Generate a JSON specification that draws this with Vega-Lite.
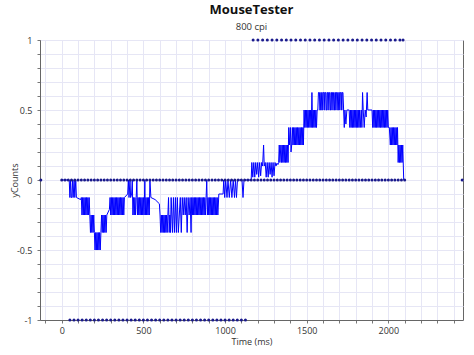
{
"$schema": "https://vega.github.io/schema/vega-lite/v6.json",
"width": 423, "height": 280,
"autosize": {"type": "none"},
"padding": {"left": 40, "top": 40, "right": 11, "bottom": 35},
"background": "white",
"title": {"text": "MouseTester", "subtitle": "800 cpi", "fontSize": 13, "fontWeight": "bold", "color": "#111", "subtitleFontSize": 9.5, "subtitleColor": "#333", "offset": 5, "subtitlePadding": 5, "anchor": "middle"},
"config": {"view": {"stroke": "#666", "strokeWidth": 1}, "font": "Open Sans"},
"layer": [
{"data": {"name": "line"},
 "mark": {"type": "line", "color": "#0000ff", "strokeWidth": 1},
 "encoding": {
  "x": {"field": "t", "type": "quantitative", "scale": {"domain": [-133, 2457], "nice": false, "zero": false},
   "axis": {"title": "Time (ms)", "tickCount": 500, "values": [-100,0,100,200,300,400,500,600,700,800,900,1000,1100,1200,1300,1400,1500,1600,1700,1800,1900,2000,2100,2200,2300,2400],
    "labelExpr": "datum.value % 500 === 0 ? datum.value + '' : ''", "labelOverlap": false, "labelBound": false, "labelFlush": false,
    "grid": true, "gridColor": "#e6e6f5", "tickSize": 3, "tickColor": "#777", "domainColor": "#666", "labelFontSize": 9, "labelColor": "#333", "titleFontSize": 9, "titleFontWeight": "normal", "titleColor": "#333", "labelPadding": 3, "titlePadding": 2}},
  "y": {"field": "y", "type": "quantitative", "scale": {"domain": [-1, 1], "nice": false},
   "axis": {"title": "yCounts", "tickCount": 500, "values": [-1,-0.9,-0.8,-0.7,-0.6,-0.5,-0.4,-0.3,-0.2,-0.1,0,0.1,0.2,0.3,0.4,0.5,0.6,0.7,0.8,0.9,1],
    "labelExpr": "indexof([-1,-0.5,0,0.5,1], datum.value) >= 0 ? toString(datum.value) : ''", "labelOverlap": false, "labelBound": false, "labelFlush": false,
    "grid": true, "gridColor": "#e6e6f5", "tickSize": 3, "tickColor": "#777", "domainColor": "#666", "labelFontSize": 9, "labelColor": "#333", "titleFontSize": 9, "titleFontWeight": "normal", "titleColor": "#333", "labelPadding": 5, "titleX": -26, "titleBaseline": "middle"}}
 }},
{"data": {"name": "dots"},
 "mark": {"type": "circle", "size": 9, "color": "#1a1a8c", "opacity": 1},
 "encoding": {
  "x": {"field": "t", "type": "quantitative"},
  "y": {"field": "y", "type": "quantitative"}
 }}
],
"datasets": {
"line": [
{"t":0,"y":0},{"t":46,"y":0},
{"t":50,"y":-0.125},{"t":54,"y":0},{"t":58,"y":-0.125},{"t":62,"y":-0.125},{"t":66,"y":0},{"t":70,"y":-0.125},{"t":76,"y":0},{"t":80,"y":-0.125},{"t":86,"y":0},{"t":90,"y":-0.125},
{"t":116,"y":-0.14},
{"t":120,"y":-0.125},{"t":124,"y":-0.25},{"t":128,"y":-0.125},{"t":132,"y":-0.25},{"t":136,"y":-0.125},{"t":140,"y":-0.25},{"t":144,"y":-0.125},{"t":148,"y":-0.25},{"t":152,"y":-0.125},{"t":156,"y":-0.25},{"t":160,"y":-0.125},{"t":164,"y":-0.25},{"t":168,"y":-0.125},
{"t":172,"y":-0.25},{"t":176,"y":-0.375},{"t":180,"y":-0.25},{"t":184,"y":-0.375},{"t":188,"y":-0.25},{"t":192,"y":-0.375},{"t":196,"y":-0.25},{"t":200,"y":-0.375},
{"t":204,"y":-0.5},{"t":208,"y":-0.375},{"t":212,"y":-0.5},{"t":216,"y":-0.375},{"t":220,"y":-0.5},{"t":224,"y":-0.375},{"t":228,"y":-0.5},{"t":232,"y":-0.375},{"t":236,"y":-0.5},{"t":240,"y":-0.375},
{"t":244,"y":-0.25},{"t":248,"y":-0.375},{"t":252,"y":-0.25},{"t":256,"y":-0.375},{"t":260,"y":-0.25},{"t":264,"y":-0.375},{"t":268,"y":-0.25},{"t":272,"y":-0.375},
{"t":276,"y":-0.25},{"t":292,"y":-0.21},
{"t":296,"y":-0.125},{"t":300,"y":-0.25},{"t":304,"y":-0.125},{"t":308,"y":-0.25},{"t":312,"y":-0.125},{"t":316,"y":-0.25},{"t":320,"y":-0.125},{"t":324,"y":-0.25},{"t":328,"y":-0.125},{"t":332,"y":-0.25},{"t":336,"y":-0.125},{"t":340,"y":-0.25},{"t":344,"y":-0.125},{"t":348,"y":-0.25},{"t":352,"y":-0.125},{"t":356,"y":-0.25},{"t":360,"y":-0.125},{"t":364,"y":-0.25},{"t":368,"y":-0.125},{"t":372,"y":-0.25},{"t":376,"y":-0.125},{"t":380,"y":-0.25},{"t":384,"y":-0.125},
{"t":404,"y":-0.1},
{"t":408,"y":0},{"t":412,"y":-0.125},{"t":418,"y":0},{"t":422,"y":-0.125},{"t":428,"y":-0.1},{"t":432,"y":0},
{"t":436,"y":-0.25},{"t":440,"y":-0.125},{"t":444,"y":-0.25},{"t":448,"y":-0.125},{"t":452,"y":-0.25},{"t":456,"y":-0.125},{"t":460,"y":0},{"t":464,"y":-0.25},{"t":468,"y":-0.125},{"t":472,"y":-0.25},{"t":476,"y":-0.125},{"t":480,"y":-0.25},{"t":484,"y":-0.125},{"t":488,"y":-0.25},{"t":492,"y":-0.125},{"t":496,"y":-0.25},{"t":500,"y":-0.125},{"t":504,"y":-0.25},{"t":509,"y":0},{"t":512,"y":-0.25},{"t":516,"y":-0.125},{"t":520,"y":-0.25},{"t":524,"y":-0.125},{"t":528,"y":-0.25},{"t":532,"y":-0.125},{"t":536,"y":-0.25},{"t":540,"y":0},{"t":546,"y":-0.125},{"t":572,"y":-0.14},{"t":598,"y":-0.17},
{"t":602,"y":-0.25},{"t":606,"y":-0.375},{"t":610,"y":-0.25},{"t":614,"y":-0.375},{"t":618,"y":-0.25},{"t":622,"y":-0.375},{"t":626,"y":-0.25},{"t":630,"y":-0.375},{"t":634,"y":-0.25},{"t":638,"y":-0.375},{"t":642,"y":-0.25},{"t":646,"y":-0.375},{"t":650,"y":-0.25},
{"t":654,"y":-0.125},{"t":658,"y":-0.375},{"t":662,"y":-0.25},{"t":666,"y":-0.375},{"t":670,"y":-0.125},{"t":674,"y":-0.25},{"t":678,"y":-0.375},{"t":684,"y":-0.125},{"t":690,"y":-0.375},
{"t":696,"y":-0.125},{"t":702,"y":-0.375},{"t":708,"y":-0.125},{"t":714,"y":-0.375},{"t":720,"y":-0.25},{"t":726,"y":-0.125},{"t":732,"y":-0.375},
{"t":738,"y":-0.125},{"t":744,"y":-0.25},{"t":750,"y":-0.125},{"t":756,"y":-0.25},{"t":762,"y":-0.125},{"t":768,"y":-0.375},{"t":774,"y":-0.125},{"t":780,"y":-0.25},{"t":786,"y":-0.125},{"t":792,"y":-0.375},
{"t":796,"y":-0.125},{"t":800,"y":-0.25},{"t":804,"y":-0.125},{"t":808,"y":-0.25},{"t":812,"y":-0.125},{"t":816,"y":-0.25},{"t":820,"y":-0.125},{"t":824,"y":-0.25},{"t":828,"y":-0.125},{"t":832,"y":-0.25},{"t":836,"y":-0.125},{"t":840,"y":-0.25},{"t":844,"y":-0.125},{"t":848,"y":-0.25},{"t":852,"y":-0.125},{"t":856,"y":-0.25},{"t":860,"y":-0.125},{"t":864,"y":-0.25},{"t":868,"y":-0.125},{"t":872,"y":-0.25},{"t":876,"y":-0.125},{"t":880,"y":-0.25},{"t":884,"y":-0.125},
{"t":888,"y":0},
{"t":892,"y":-0.25},{"t":896,"y":-0.125},{"t":900,"y":-0.25},{"t":904,"y":-0.125},{"t":908,"y":-0.25},{"t":912,"y":-0.125},{"t":916,"y":-0.25},{"t":920,"y":-0.125},{"t":924,"y":-0.25},{"t":928,"y":-0.125},{"t":932,"y":-0.25},{"t":936,"y":-0.125},{"t":940,"y":-0.25},{"t":944,"y":-0.125},{"t":948,"y":-0.25},{"t":952,"y":-0.125},{"t":956,"y":-0.25},
{"t":962,"y":-0.1},{"t":988,"y":-0.1},
{"t":992,"y":0},{"t":998,"y":-0.125},{"t":1004,"y":0},{"t":1012,"y":-0.125},{"t":1018,"y":0},{"t":1026,"y":-0.125},{"t":1034,"y":0},{"t":1042,"y":-0.125},{"t":1050,"y":0},{"t":1058,"y":-0.125},{"t":1064,"y":0},{"t":1070,"y":-0.125},{"t":1076,"y":0},{"t":1090,"y":0},{"t":1104,"y":0},{"t":1110,"y":-0.125},{"t":1116,"y":0},{"t":1160,"y":0},
{"t":1164,"y":0.125},{"t":1170,"y":0.02},{"t":1176,"y":0.125},{"t":1182,"y":0.02},{"t":1188,"y":0.125},{"t":1194,"y":0.04},{"t":1200,"y":0.125},{"t":1206,"y":0.02},{"t":1212,"y":0.125},{"t":1218,"y":0.03},{"t":1224,"y":0.125},{"t":1230,"y":0.1},{"t":1236,"y":0.25},{"t":1240,"y":0.1},{"t":1246,"y":0.125},{"t":1252,"y":0.02},{"t":1258,"y":0.125},{"t":1264,"y":0.02},{"t":1270,"y":0.125},{"t":1276,"y":0.04},{"t":1282,"y":0.125},{"t":1288,"y":0.02},{"t":1294,"y":0.125},{"t":1300,"y":0.03},{"t":1306,"y":0.125},{"t":1312,"y":0.1},{"t":1318,"y":0.12},{"t":1324,"y":0.11},
{"t":1328,"y":0.125},{"t":1332,"y":0.25},{"t":1336,"y":0.125},{"t":1342,"y":0.25},{"t":1346,"y":0.125},
{"t":1350,"y":0.25},{"t":1354,"y":0.125},{"t":1358,"y":0.25},{"t":1362,"y":0.125},{"t":1366,"y":0.25},{"t":1370,"y":0.125},{"t":1374,"y":0.25},{"t":1378,"y":0.125},{"t":1382,"y":0.25},{"t":1386,"y":0.125},
{"t":1390,"y":0.375},{"t":1394,"y":0.25},{"t":1400,"y":0.375},{"t":1404,"y":0.2},{"t":1408,"y":0.25},
{"t":1412,"y":0.375},{"t":1416,"y":0.25},{"t":1420,"y":0.375},{"t":1424,"y":0.25},{"t":1428,"y":0.375},{"t":1432,"y":0.25},{"t":1436,"y":0.375},{"t":1440,"y":0.25},{"t":1444,"y":0.375},{"t":1448,"y":0.25},{"t":1452,"y":0.375},{"t":1456,"y":0.25},{"t":1460,"y":0.375},{"t":1464,"y":0.25},{"t":1468,"y":0.375},{"t":1472,"y":0.25},{"t":1476,"y":0.375},{"t":1480,"y":0.25},
{"t":1484,"y":0.5},{"t":1488,"y":0.375},{"t":1492,"y":0.5},{"t":1496,"y":0.375},{"t":1500,"y":0.5},{"t":1504,"y":0.375},{"t":1508,"y":0.5},{"t":1512,"y":0.375},{"t":1516,"y":0.5},{"t":1520,"y":0.375},{"t":1524,"y":0.5},{"t":1528,"y":0.375},{"t":1532,"y":0.625},{"t":1536,"y":0.375},{"t":1540,"y":0.5},{"t":1544,"y":0.375},{"t":1548,"y":0.5},{"t":1552,"y":0.375},{"t":1556,"y":0.5},{"t":1560,"y":0.375},{"t":1564,"y":0.5},
{"t":1568,"y":0.5},
{"t":1572,"y":0.625},{"t":1578,"y":0.625},{"t":1580,"y":0.5},{"t":1584,"y":0.5},{"t":1586,"y":0.625},{"t":1590,"y":0.625},{"t":1592,"y":0.5},{"t":1596,"y":0.5},{"t":1598,"y":0.625},{"t":1604,"y":0.625},{"t":1606,"y":0.5},{"t":1608,"y":0.5},{"t":1610,"y":0.625},{"t":1616,"y":0.625},{"t":1618,"y":0.5},{"t":1622,"y":0.5},{"t":1624,"y":0.625},{"t":1628,"y":0.625},{"t":1630,"y":0.5},{"t":1632,"y":0.5},{"t":1634,"y":0.625},{"t":1640,"y":0.625},{"t":1642,"y":0.5},{"t":1646,"y":0.5},{"t":1648,"y":0.625},{"t":1652,"y":0.625},{"t":1654,"y":0.5},{"t":1656,"y":0.5},{"t":1658,"y":0.625},{"t":1664,"y":0.625},{"t":1666,"y":0.5},{"t":1670,"y":0.5},{"t":1672,"y":0.625},{"t":1676,"y":0.625},{"t":1678,"y":0.5},{"t":1680,"y":0.5},{"t":1682,"y":0.625},{"t":1688,"y":0.625},{"t":1690,"y":0.5},{"t":1694,"y":0.5},{"t":1696,"y":0.625},{"t":1700,"y":0.625},{"t":1702,"y":0.5},{"t":1704,"y":0.5},{"t":1706,"y":0.625},{"t":1712,"y":0.625},{"t":1714,"y":0.5},{"t":1716,"y":0.5},{"t":1718,"y":0.625},{"t":1722,"y":0.625},
{"t":1726,"y":0.5},{"t":1730,"y":0.375},{"t":1734,"y":0.5},{"t":1740,"y":0.4},{"t":1746,"y":0.5},{"t":1760,"y":0.5},
{"t":1764,"y":0.375},{"t":1768,"y":0.5},{"t":1772,"y":0.375},{"t":1776,"y":0.5},{"t":1780,"y":0.375},{"t":1784,"y":0.5},{"t":1788,"y":0.375},{"t":1792,"y":0.5},{"t":1796,"y":0.375},{"t":1800,"y":0.5},{"t":1804,"y":0.375},{"t":1808,"y":0.5},{"t":1812,"y":0.375},{"t":1816,"y":0.5},{"t":1820,"y":0.375},{"t":1824,"y":0.5},{"t":1828,"y":0.375},
{"t":1834,"y":0.5},{"t":1838,"y":0.375},{"t":1842,"y":0.625},{"t":1846,"y":0.5},{"t":1852,"y":0.375},{"t":1858,"y":0.5},{"t":1864,"y":0.45},{"t":1870,"y":0.625},{"t":1874,"y":0.5},{"t":1900,"y":0.5},
{"t":1904,"y":0.375},{"t":1908,"y":0.5},{"t":1912,"y":0.375},{"t":1916,"y":0.5},{"t":1920,"y":0.375},{"t":1924,"y":0.5},{"t":1928,"y":0.375},{"t":1932,"y":0.5},{"t":1936,"y":0.375},{"t":1940,"y":0.5},{"t":1944,"y":0.375},{"t":1948,"y":0.5},{"t":1952,"y":0.375},{"t":1956,"y":0.5},{"t":1960,"y":0.375},{"t":1964,"y":0.5},{"t":1968,"y":0.375},{"t":1972,"y":0.5},{"t":1976,"y":0.375},{"t":1980,"y":0.5},{"t":1984,"y":0.375},{"t":1988,"y":0.5},{"t":1992,"y":0.375},{"t":1996,"y":0.5},{"t":2000,"y":0.375},
{"t":2006,"y":0.375},
{"t":2012,"y":0.25},{"t":2016,"y":0.375},{"t":2020,"y":0.25},{"t":2024,"y":0.375},{"t":2028,"y":0.25},{"t":2032,"y":0.375},{"t":2036,"y":0.25},{"t":2040,"y":0.375},{"t":2044,"y":0.25},{"t":2048,"y":0.375},{"t":2052,"y":0.25},{"t":2056,"y":0.375},
{"t":2060,"y":0.125},{"t":2064,"y":0.25},{"t":2068,"y":0.125},{"t":2072,"y":0.25},{"t":2076,"y":0.125},{"t":2080,"y":0.25},{"t":2084,"y":0.125},{"t":2088,"y":0.25},
{"t":2094,"y":0}
],
"dots": [
{"t":-128,"y":0},{"t":2452,"y":0},
{"t":0,"y":0},{"t":20,"y":0},{"t":40,"y":0},{"t":60,"y":0},{"t":80,"y":0},{"t":100,"y":0},{"t":120,"y":0},{"t":140,"y":0},{"t":160,"y":0},{"t":180,"y":0},
{"t":200,"y":0},{"t":220,"y":0},{"t":240,"y":0},{"t":260,"y":0},{"t":280,"y":0},{"t":300,"y":0},{"t":320,"y":0},{"t":340,"y":0},{"t":360,"y":0},{"t":380,"y":0},
{"t":400,"y":0},{"t":420,"y":0},{"t":440,"y":0},{"t":460,"y":0},{"t":480,"y":0},{"t":500,"y":0},{"t":520,"y":0},{"t":540,"y":0},{"t":560,"y":0},{"t":580,"y":0},
{"t":600,"y":0},{"t":620,"y":0},{"t":640,"y":0},{"t":660,"y":0},{"t":680,"y":0},{"t":700,"y":0},{"t":720,"y":0},{"t":740,"y":0},{"t":760,"y":0},{"t":780,"y":0},
{"t":800,"y":0},{"t":820,"y":0},{"t":840,"y":0},{"t":860,"y":0},{"t":880,"y":0},{"t":900,"y":0},{"t":920,"y":0},{"t":940,"y":0},{"t":960,"y":0},{"t":980,"y":0},
{"t":1000,"y":0},{"t":1020,"y":0},{"t":1040,"y":0},{"t":1060,"y":0},{"t":1080,"y":0},{"t":1100,"y":0},{"t":1120,"y":0},{"t":1140,"y":0},{"t":1160,"y":0},{"t":1180,"y":0},
{"t":1200,"y":0},{"t":1220,"y":0},{"t":1240,"y":0},{"t":1260,"y":0},{"t":1280,"y":0},{"t":1300,"y":0},{"t":1320,"y":0},{"t":1340,"y":0},{"t":1360,"y":0},{"t":1380,"y":0},
{"t":1400,"y":0},{"t":1420,"y":0},{"t":1440,"y":0},{"t":1460,"y":0},{"t":1480,"y":0},{"t":1500,"y":0},{"t":1520,"y":0},{"t":1540,"y":0},{"t":1560,"y":0},{"t":1580,"y":0},
{"t":1600,"y":0},{"t":1620,"y":0},{"t":1640,"y":0},{"t":1660,"y":0},{"t":1680,"y":0},{"t":1700,"y":0},{"t":1720,"y":0},{"t":1740,"y":0},{"t":1760,"y":0},{"t":1780,"y":0},
{"t":1800,"y":0},{"t":1820,"y":0},{"t":1840,"y":0},{"t":1860,"y":0},{"t":1880,"y":0},{"t":1900,"y":0},{"t":1920,"y":0},{"t":1940,"y":0},{"t":1960,"y":0},{"t":1980,"y":0},
{"t":2000,"y":0},{"t":2020,"y":0},{"t":2040,"y":0},{"t":2060,"y":0},{"t":2080,"y":0},{"t":2100,"y":0},
{"t":50,"y":-1},{"t":75,"y":-1},{"t":100,"y":-1},{"t":125,"y":-1},{"t":150,"y":-1},{"t":175,"y":-1},{"t":200,"y":-1},{"t":225,"y":-1},{"t":250,"y":-1},{"t":275,"y":-1},
{"t":300,"y":-1},{"t":325,"y":-1},{"t":350,"y":-1},{"t":375,"y":-1},{"t":400,"y":-1},{"t":425,"y":-1},{"t":450,"y":-1},{"t":475,"y":-1},{"t":500,"y":-1},{"t":525,"y":-1},
{"t":550,"y":-1},{"t":575,"y":-1},{"t":600,"y":-1},{"t":625,"y":-1},{"t":650,"y":-1},{"t":675,"y":-1},{"t":700,"y":-1},{"t":725,"y":-1},{"t":750,"y":-1},{"t":775,"y":-1},
{"t":800,"y":-1},{"t":825,"y":-1},{"t":850,"y":-1},{"t":875,"y":-1},{"t":900,"y":-1},{"t":925,"y":-1},{"t":950,"y":-1},{"t":975,"y":-1},{"t":1000,"y":-1},{"t":1025,"y":-1},
{"t":1050,"y":-1},{"t":1075,"y":-1},{"t":1100,"y":-1},{"t":1125,"y":-1},
{"t":1172,"y":1},{"t":1201,"y":1},{"t":1230,"y":1},{"t":1259,"y":1},{"t":1288,"y":1},{"t":1317,"y":1},{"t":1346,"y":1},{"t":1375,"y":1},{"t":1404,"y":1},{"t":1433,"y":1},
{"t":1462,"y":1},{"t":1491,"y":1},{"t":1520,"y":1},{"t":1549,"y":1},{"t":1578,"y":1},{"t":1607,"y":1},{"t":1636,"y":1},{"t":1665,"y":1},{"t":1694,"y":1},{"t":1723,"y":1},
{"t":1752,"y":1},{"t":1781,"y":1},{"t":1810,"y":1},{"t":1839,"y":1},{"t":1868,"y":1},{"t":1897,"y":1},{"t":1926,"y":1},{"t":1955,"y":1},{"t":1984,"y":1},{"t":2013,"y":1},
{"t":2042,"y":1},{"t":2071,"y":1},{"t":2090,"y":1}
]
}
}
